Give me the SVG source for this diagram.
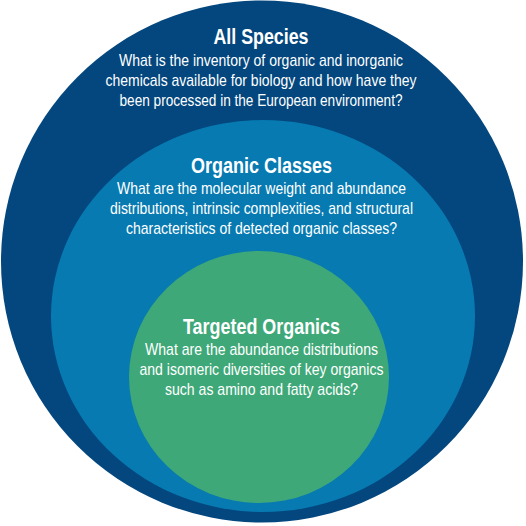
<svg xmlns="http://www.w3.org/2000/svg" width="526" height="526" viewBox="0 0 526 526">
<style>
text{fill:#fff;font-family:"Liberation Sans",Arial,sans-serif;text-anchor:middle}
.t{font-size:22px;font-weight:bold}
.b{font-size:17px}
</style>
<rect width="526" height="526" fill="#fff"/>
<g id="all-species">
<circle cx="262" cy="261.5" r="261" fill="#03477e"/>
<text class="t" x="261" y="44" textLength="95" lengthAdjust="spacingAndGlyphs">All Species</text>
<text class="b" x="261" y="66" textLength="284" lengthAdjust="spacingAndGlyphs">What is the inventory of organic and inorganic</text>
<text class="b" x="261" y="86" textLength="311" lengthAdjust="spacingAndGlyphs">chemicals available for biology and how have they</text>
<text class="b" x="261" y="106" textLength="283" lengthAdjust="spacingAndGlyphs">been processed in the European environment?</text>
</g>
<g id="organic-classes">
<ellipse cx="263" cy="316" rx="212" ry="196" fill="#077ab1"/>
<text class="t" x="261.5" y="173" textLength="141" lengthAdjust="spacingAndGlyphs">Organic Classes</text>
<text class="b" x="261.5" y="194" textLength="289" lengthAdjust="spacingAndGlyphs">What are the molecular weight and abundance</text>
<text class="b" x="261.5" y="214" textLength="303" lengthAdjust="spacingAndGlyphs">distributions, intrinsic complexities, and structural</text>
<text class="b" x="261.5" y="234" textLength="271" lengthAdjust="spacingAndGlyphs">characteristics of detected organic classes?</text>
</g>
<g id="targeted-organics">
<ellipse cx="259" cy="377" rx="130" ry="126" fill="#3ea878"/>
<text class="t" x="261.5" y="334" textLength="157" lengthAdjust="spacingAndGlyphs">Targeted Organics</text>
<text class="b" x="261.5" y="355" textLength="233" lengthAdjust="spacingAndGlyphs">What are the abundance distributions</text>
<text class="b" x="261.5" y="375" textLength="244" lengthAdjust="spacingAndGlyphs">and isomeric diversities of key organics</text>
<text class="b" x="261.5" y="395" textLength="193" lengthAdjust="spacingAndGlyphs">such as amino and fatty acids?</text>
</g>
<g id="connectors"/>
</svg>
